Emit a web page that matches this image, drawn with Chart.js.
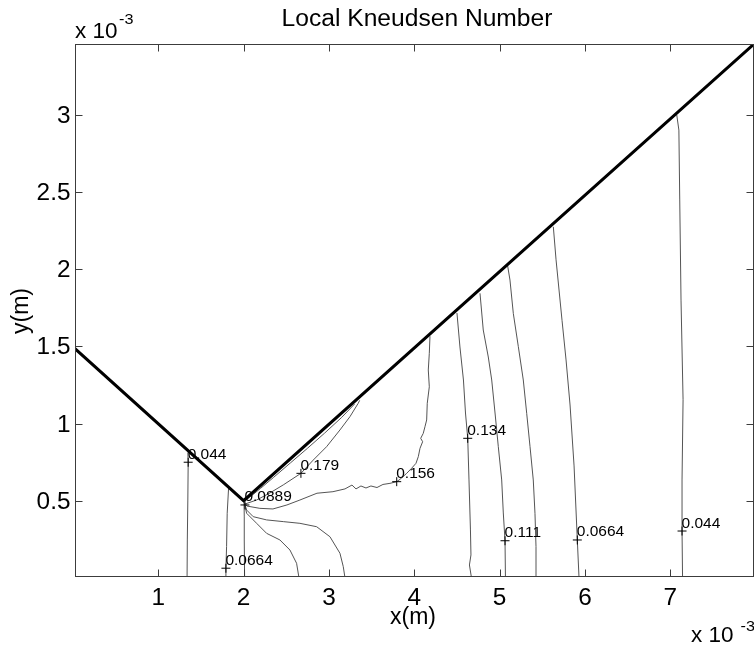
<!DOCTYPE html>
<html>
<head>
<meta charset="utf-8">
<script src="https://cdn.jsdelivr.net/npm/chart.js@4/dist/chart.umd.min.js"></script>
<style>
  html, body { margin: 0; padding: 0; background: #fff; overflow: hidden; }
  canvas { display: block; }
</style>
</head>
<body>
<canvas id="kn" width="754" height="647"></canvas>
<script>
// All coordinates are in units of 1e-3 m (the axes carry the "x 10^-3" factor).
const xTickValues = [1, 2, 3, 4, 5, 6, 7];
const xTickLabels = ['1', '2', '3', '4', '5', '6', '7'];
const yTickValues = [0.5, 1, 1.5, 2, 2.5, 3];
const yTickLabels = ['0.5', '1', '1.5', '2', '2.5', '3'];
const xRange = [0.025, 7.98];
const yRange = [0.005, 3.46];

// Channel wall (V-shaped boundary)
const wallX = [0.025, 2.0, 7.98];
const wallY = [1.485, 0.5, 3.46];

// Iso-lines of the local Knudsen number
const kn044LeftX = [1.347, 1.351, 1.347, 1.341, 1.338];
const kn044LeftY = [0.812, 0.749, 0.504, 0.245, 0];

const kn0664LeftX = [1.825, 1.808, 1.801, 1.793, 1.793];
const kn0664LeftY = [0.588, 0.418, 0.202, 0.062, 0];

const kn0889CornerX = [2.005, 2.008, 2.008, 2.012];
const kn0889CornerY = [0.49, 0.40, 0.245, 0];

const fanInnerX = [2.01, 2.036, 2.153, 2.270, 2.426, 2.543, 2.621, 2.649];
const fanInnerY = [0.48, 0.418, 0.353, 0.288, 0.245, 0.180, 0.094, 0];

const fanOuterX = [2.01, 2.036, 2.113, 2.270, 2.465, 2.660, 2.856, 3.012, 3.129, 3.168, 3.188];
const fanOuterY = [0.485, 0.439, 0.396, 0.375, 0.364, 0.353, 0.331, 0.266, 0.159, 0.072, 0];

const kn156X = [2.01, 2.039, 2.191, 2.344, 2.508, 2.660, 2.860, 3.047, 3.188, 3.270, 3.317, 3.375, 3.434,
  3.492, 3.563, 3.633, 3.715, 3.794, 3.832, 3.911, 3.969, 4.020, 4.047, 4.067, 4.098, 4.075, 4.105,
  4.125, 4.145, 4.152, 4.176, 4.164, 4.176, 4.184];
const kn156Y = [0.49, 0.465, 0.450, 0.446, 0.472, 0.504, 0.548, 0.558, 0.576, 0.601, 0.576, 0.595, 0.582,
  0.595, 0.585, 0.605, 0.612, 0.623, 0.638, 0.677, 0.710, 0.742, 0.785, 0.839, 0.882, 0.904, 0.936,
  0.979, 1.023, 1.131, 1.238, 1.347, 1.455, 1.566];

const kn179X = [2.016, 2.153, 2.309, 2.465, 2.672, 2.816, 2.973, 3.129, 3.246, 3.343, 3.36];
const kn179Y = [0.478, 0.504, 0.550, 0.602, 0.677, 0.763, 0.850, 0.958, 1.044, 1.131, 1.15];

const kn200X = [2.02, 2.10, 2.20, 2.35, 2.55, 2.75, 2.95, 3.15, 3.30];
const kn200Y = [0.500, 0.535, 0.580, 0.650, 0.745, 0.840, 0.938, 1.040, 1.126];

const kn134X = [4.500, 4.535, 4.576, 4.600, 4.626, 4.641, 4.658, 4.664, 4.646, 4.670];
const kn134Y = [1.716, 1.496, 1.282, 1.068, 0.904, 0.634, 0.310, 0.148, 0.083, 0];

const kn111X = [4.770, 4.808, 4.867, 4.907, 4.946, 4.984, 5.024, 5.043, 5.063, 5.068];
const kn111Y = [1.844, 1.606, 1.431, 1.282, 1.068, 0.852, 0.634, 0.420, 0.240, 0];

const kn0889X = [5.094, 5.121, 5.160, 5.219, 5.277, 5.317, 5.356, 5.394, 5.414, 5.426, 5.426];
const kn0889Y = [2.021, 1.930, 1.714, 1.498, 1.282, 1.066, 0.850, 0.634, 0.418, 0.202, 0];

const kn0664RightX = [5.629, 5.661, 5.731, 5.778, 5.825, 5.872, 5.910, 5.930];
const kn0664RightY = [2.275, 2.061, 1.668, 1.412, 1.120, 0.725, 0.245, 0];

const kn044RightX = [7.075, 7.10, 7.11, 7.125, 7.149, 7.137, 7.137, 7.143];
const kn044RightY = [3.0, 2.902, 2.449, 1.80, 1.154, 0.634, 0.303, 0];

// Contour labels: value text and the point it marks
const labelText = ['0.044', '0.0664', '0.0889', '0.179', '0.156', '0.134', '0.111', '0.0664', '0.044'];
const labelX = [1.351, 1.793, 2.016, 2.672, 3.794, 4.626, 5.063, 5.910, 7.137];
const labelY = [0.749, 0.062, 0.472, 0.677, 0.623, 0.904, 0.240, 0.245, 0.303];

const FONT = '"Liberation Sans", Arial, Helvetica, sans-serif';

function pts(xs, ys) { return xs.map((v, i) => ({ x: v, y: ys[i] })); }

const contourSets = [
  [kn044LeftX, kn044LeftY], [kn0664LeftX, kn0664LeftY], [kn0889CornerX, kn0889CornerY],
  [fanInnerX, fanInnerY], [fanOuterX, fanOuterY], [kn156X, kn156Y], [kn179X, kn179Y],
  [kn200X, kn200Y], [kn134X, kn134Y], [kn111X, kn111Y], [kn0889X, kn0889Y],
  [kn0664RightX, kn0664RightY], [kn044RightX, kn044RightY]
];

// a one-segment dash pattern keeps every polyline vertex (no pixel-merging fast path)
const SOLID = [4000, 1];

const datasets = [
  { // wall, drawn on top
    data: pts(wallX, wallY), showLine: true, borderColor: '#000', borderWidth: 3,
    pointRadius: 0, tension: 0, fill: false, borderDash: SOLID
  },
  { // label markers
    data: pts(labelX, labelY), showLine: false, pointStyle: 'cross', pointRadius: 4.5,
    borderColor: '#000', borderWidth: 1, backgroundColor: '#000'
  }
].concat(contourSets.map(([xs, ys]) => ({
  data: pts(xs, ys), showLine: true, borderColor: '#555', borderWidth: 1,
  pointRadius: 0, tension: 0, fill: false, borderDash: SOLID
})));

function drawText(ctx, txt, x, y, size, align, stretch, rot) {
  ctx.save();
  ctx.translate(x, y);
  if (rot) ctx.rotate(rot);
  ctx.scale(stretch || 1, 1);
  ctx.font = size + 'px ' + FONT;
  ctx.fillStyle = '#000';
  ctx.textAlign = align;
  ctx.textBaseline = 'alphabetic';
  ctx.fillText(txt, 0, 0);
  ctx.restore();
}

const axesDecor = {
  id: 'axesDecor',
  beforeDraw(chart) {
    const ctx = chart.ctx;
    ctx.save();
    ctx.fillStyle = '#fff';
    ctx.fillRect(0, 0, chart.width, chart.height);
    ctx.restore();
  },
  afterDatasetsDraw(chart) {
    const { ctx, chartArea: a, scales: { x, y } } = chart;
    const L = a.left + 0.5, R = a.right - 0.5, T = a.top + 0.5, B = a.bottom - 0.5;
    const tl = 7;
    ctx.save();
    ctx.strokeStyle = '#3c3c3c';
    ctx.lineWidth = 1;
    ctx.setLineDash([]);
    ctx.strokeRect(L, T, R - L, B - T);
    ctx.beginPath();
    xTickValues.forEach(v => {
      const px = Math.round(x.getPixelForValue(v)) + 0.5;
      ctx.moveTo(px, B); ctx.lineTo(px, B - tl);
      ctx.moveTo(px, T); ctx.lineTo(px, T + tl);
    });
    yTickValues.forEach(v => {
      const py = Math.round(y.getPixelForValue(v)) + 0.5;
      ctx.moveTo(L, py); ctx.lineTo(L + tl, py);
      ctx.moveTo(R, py); ctx.lineTo(R - tl, py);
    });
    ctx.stroke();
    ctx.restore();

    // tick labels
    xTickValues.forEach((v, i) => {
      drawText(ctx, xTickLabels[i], x.getPixelForValue(v), a.bottom + 28, 23, 'center', 1.06);
    });
    yTickValues.forEach((v, i) => {
      drawText(ctx, yTickLabels[i], a.left - 4.5, y.getPixelForValue(v) + 8, 23, 'right', 1.06);
    });

    // contour value labels
    labelText.forEach((t, i) => {
      const px = x.getPixelForValue(labelX[i]);
      const py = y.getPixelForValue(labelY[i]);
      drawText(ctx, t, px - 0.5, py - 3.5, 15.5, 'left', 1);
    });

    // title, axis titles, exponent markers
    drawText(ctx, 'Local Kneudsen Number', 417, 26, 23, 'center', 1.07);
    drawText(ctx, 'x(m)', 413, 624, 23, 'center', 1);
    drawText(ctx, 'y(m)', 28, 311, 23, 'center', 1, -Math.PI / 2);
    drawText(ctx, 'x 10', 75, 37.5, 22.5, 'left', 1);
    drawText(ctx, '-3', 119, 23.5, 15, 'left', 1.08);
    drawText(ctx, 'x 10', 691, 642, 22.5, 'left', 1);
    drawText(ctx, '-3', 740.5, 631, 15, 'left', 1.08);
  }
};

new Chart(document.getElementById('kn').getContext('2d'), {
  type: 'scatter',
  data: { datasets },
  options: {
    responsive: false,
    animation: false,
    devicePixelRatio: 1,
    events: [],
    layout: { autoPadding: false, padding: { left: 75, top: 44, right: 0, bottom: 70 } },
    scales: {
      x: { type: 'linear', display: false, min: xRange[0], max: xRange[1] },
      y: { type: 'linear', display: false, min: yRange[0], max: yRange[1] }
    },
    plugins: {
      legend: { display: false },
      tooltip: { enabled: false },
      title: { display: false }
    }
  },
  plugins: [axesDecor]
});
</script>
</body>
</html>
